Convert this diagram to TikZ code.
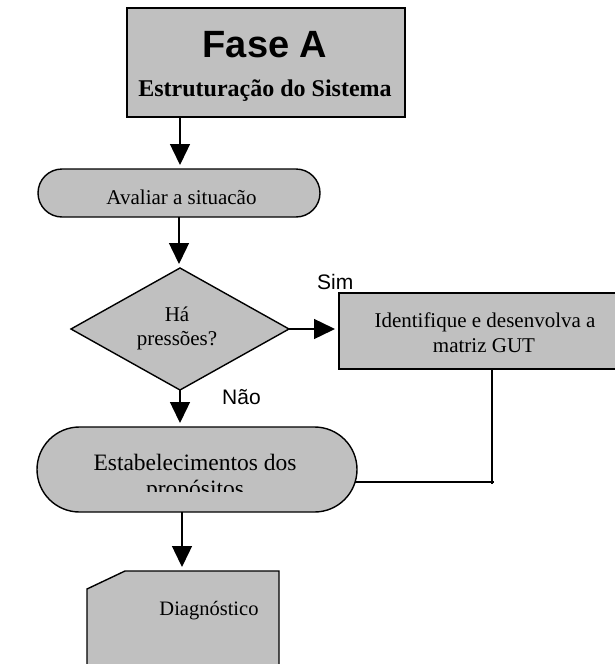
\documentclass[tikz,border=0pt]{standalone}
\usepackage{fontspec}
\setmainfont{Liberation Serif}
\newfontfamily\labelsans{Liberation Sans}
\usetikzlibrary{arrows.meta,shapes.geometric}
\definecolor{boxgray}{RGB}{192,192,192}
\begin{document}
\begin{tikzpicture}[x=1pt,y=-1pt,
  shapebox/.style={draw=black, fill=boxgray, line width=1.4pt, inner sep=0pt, outer sep=0pt},
  flow/.style={line width=1.4pt, -{Triangle[length=21pt,width=20pt]}, shorten >=4pt},
  plainline/.style={line width=1.4pt},
  serif/.style={font=\fontsize{21}{24}\selectfont, inner sep=0pt, anchor=base},
  serifbold/.style={font=\fontsize{24}{28}\selectfont\bfseries, inner sep=0pt, anchor=base},
  sanslabel/.style={font=\labelsans\fontsize{21}{24}\selectfont, inner sep=0pt, anchor=base west}]
\useasboundingbox (0,0) rectangle (615,664);
\clip (0,0) rectangle (615,664);

% flow shapes
\node[shapebox, rectangle, minimum width=278pt, minimum height=109pt] (fase) at (266,62.5) {};
\node[shapebox, rectangle, rounded corners=24pt, minimum width=282pt, minimum height=48pt] (aval) at (179,193) {};
\node[shapebox, diamond, minimum width=218pt, minimum height=122pt] (press) at (180,329) {};
\node[shapebox, rectangle, minimum width=306pt, minimum height=76pt] (gut) at (492,331) {};
\node[shapebox, rectangle, rounded corners=42.5pt, minimum width=320pt, minimum height=85pt] (estab) at (197,469.5) {};

% card shape with the cut corner
\node[inner sep=0pt, outer sep=0pt, minimum width=192pt, minimum height=138pt] (diag) at (183,640) {};
\draw[shapebox] (diag.south west) -- ([yshift=-18pt]diag.north west)
  -- ([xshift=38pt]diag.north west) -- (diag.north east) -- (diag.south east) -- cycle;

% connectors
\coordinate (fasefoot) at (180,117);
\draw[flow] (fasefoot) -- (fasefoot |- aval.north);
\draw[flow] (aval.south) -- (aval.south |- press.north);
\draw[flow] (press.east) -- (press.east -| gut.west);
\draw[flow] (press.south) -- (press.south |- estab.north);
\coordinate (estabfoot) at (182,512);
\draw[flow] (estabfoot) -- (estabfoot |- diag.north);
\coordinate (join) at (492,482);
\draw[plainline] (gut.south) -- ([yshift=-2pt]join);
\draw[plainline] ([xshift=-2pt,yshift=-12.5pt]estab.east) -- ([xshift=2pt]join);

% texts
\node[font=\labelsans\bfseries\fontsize{38}{42}\selectfont, inner sep=0pt, anchor=base] (fasetitle) at (265,57) {Fase A};
\node[serifbold] (fasesub) at (265,96) {Estruturação do Sistema};
\node[serif] (avaltxt) at (181.5,204) {Avaliar a situacão};
\node[serif] (presstxta) at (177,321) {Há};
\node[serif] (presstxtb) at (177,345) {pressões?};
\node[serif] (guttxta) at (485,327) {Identifique e desenvolva a};
\node[serif] (guttxtb) at (484,352) {matriz GUT};
\begin{scope}
  \clip (37,440) rectangle (360,491);
  \node[serif, font=\fontsize{23.5}{27}\selectfont] (estabtxta) at (195,470) {Estabelecimentos dos};
  \node[serif, font=\fontsize{23.5}{27}\selectfont] (estabtxtb) at (195,496) {propósitos};
\end{scope}
\node[serif, font=\fontsize{20.5}{24}\selectfont] (diagtxt) at (209,615) {Diagnóstico};
\node[sanslabel] (sim) at (317,289) {Sim};
\node[sanslabel] (nao) at (222,404) {Não};
\end{tikzpicture}
\end{document}
